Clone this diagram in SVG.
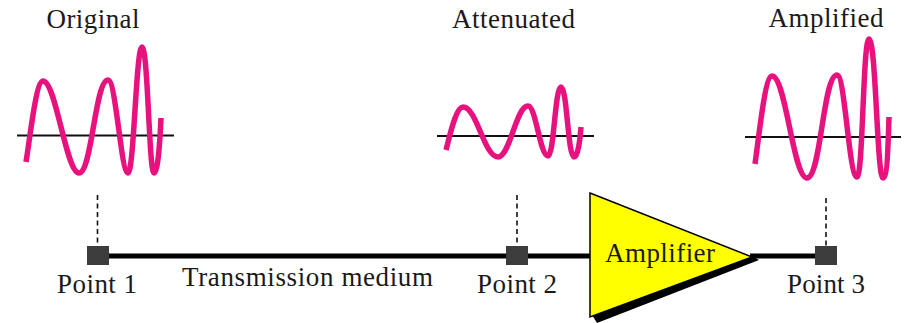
<svg xmlns="http://www.w3.org/2000/svg" width="907" height="323" viewBox="0 0 907 323">
<style>
.t{font-family:"Liberation Serif","Times New Roman",serif;font-size:27px;fill:#1a1a1a;}
.wave{fill:none;stroke:#e8127f;stroke-width:5.5;stroke-linecap:butt;stroke-linejoin:round;}
.axis{stroke:#111;stroke-width:2;}
.dash{stroke:#111;stroke-width:1.6;stroke-dasharray:5 3.5;}
.med{stroke:#000;stroke-width:5;}
.pt{fill:#3c3c3c;}
</style>
<rect width="907" height="323" fill="#fff"/>
<g id="connectors">
<line class="med" x1="100" y1="256" x2="592" y2="256"/>
<line class="med" x1="750" y1="256" x2="826" y2="256"/>
<line class="dash" x1="97.5" y1="195" x2="97.5" y2="246"/>
<line class="dash" x1="517" y1="195" x2="517" y2="246"/>
<line class="dash" x1="826" y1="198" x2="826" y2="246"/>
</g>
<g id="original">
<line class="axis" x1="17" y1="135.5" x2="174" y2="135.5"/>
<path class="wave" d="M26,162 C30,138 36,81 43,81 C56,81 66,173 79,173 C92,173 95,80 108,80 C116,80 121,173 128,173 C134,173 136,47 142,47 C148,47 149,173 154,173 C158,173 160,140 161,118"/>
<text class="t" x="93" y="28" text-anchor="middle" textLength="93">Original</text>
</g>
<g id="attenuated">
<line class="axis" x1="437" y1="136" x2="594" y2="136"/>
<path class="wave" d="M446,150 C450,135 456,107 463,107 C477,107 484,157 498,157 C510,157 516,106 528,106 C536,106 540,156 548,156 C554,156 555,87 561,87 C567,87 568,157 574,157 C578,157 580,140 581,127"/>
<text class="t" x="513.5" y="28" text-anchor="middle" textLength="123">Attenuated</text>
</g>
<g id="amplified">
<line class="axis" x1="745" y1="137" x2="901" y2="137"/>
<path class="wave" d="M755,164 C759,136 765,76 772,76 C786,76 793,178 807,178 C821,178 823,75 837,75 C845,75 849,177 857,177 C863,177 863,39 869,39 C876,39 877,178 883,178 C887,178 888,150 889,117"/>
<text class="t" x="826" y="27" text-anchor="middle" textLength="115">Amplified</text>
</g>
<g id="point1">
<rect class="pt" x="87" y="246" width="22" height="19"/>
<text class="t" x="97" y="293" text-anchor="middle" textLength="80">Point 1</text>
</g>
<g id="medium-label">
<text class="t" x="307.5" y="286" text-anchor="middle" textLength="251">Transmission medium</text>
</g>
<g id="point2">
<rect class="pt" x="506" y="246" width="22" height="19"/>
<text class="t" x="517" y="293" text-anchor="middle" textLength="80">Point 2</text>
</g>
<g id="amplifier">
<polygon points="592,315 752,256 759,260 597,323" fill="#000"/>
<polygon points="590,193 752,257 590,317" fill="#ffff00" stroke="#000" stroke-width="1.5" stroke-linejoin="miter"/>
<text class="t" x="660" y="262" text-anchor="middle" textLength="110">Amplifier</text>
</g>
<g id="point3">
<rect class="pt" x="815" y="246" width="22" height="19"/>
<text class="t" x="826" y="293" text-anchor="middle" textLength="78">Point 3</text>
</g>
</svg>
